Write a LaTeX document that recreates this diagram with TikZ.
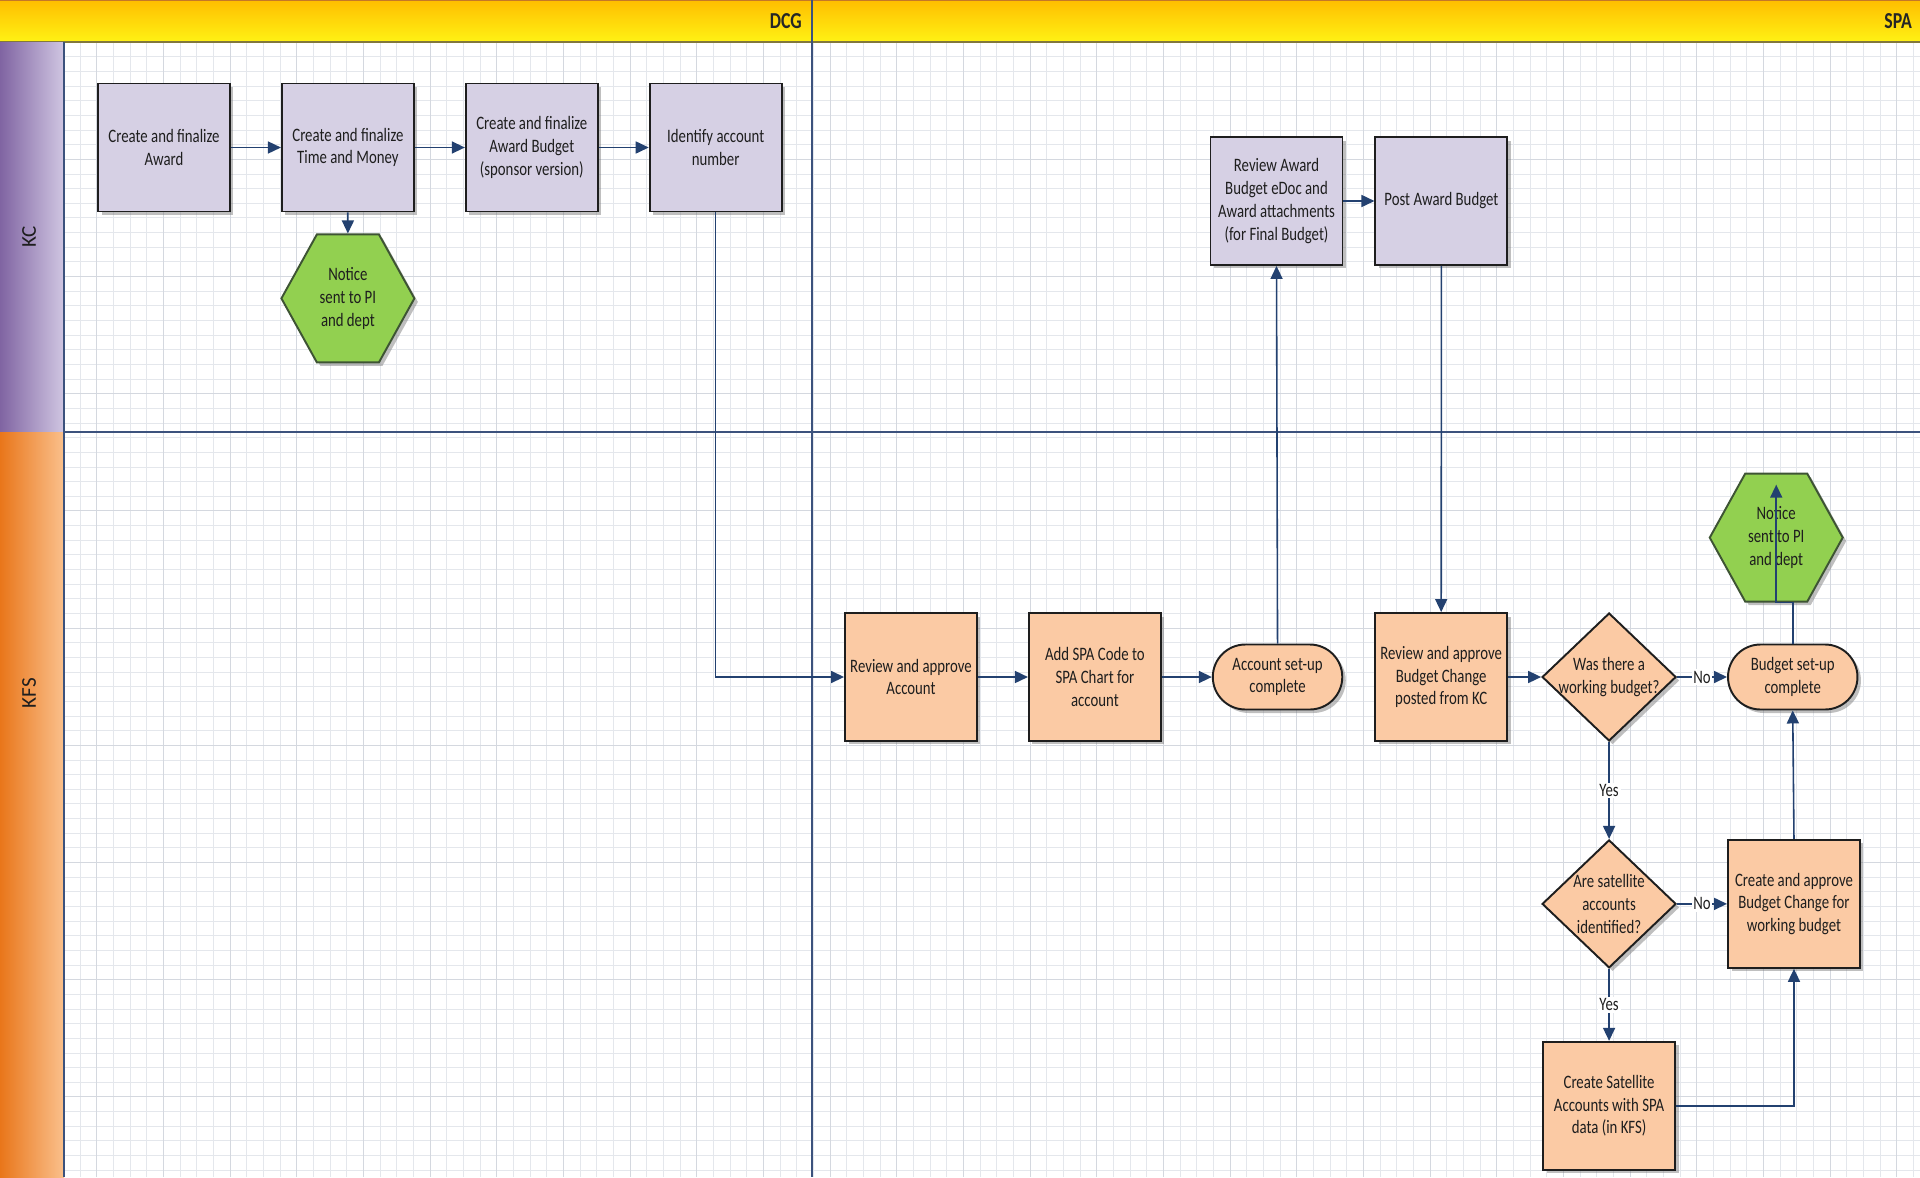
\documentclass[tikz,border=0pt]{standalone}
\usepackage{fontspec}
\setmainfont{Carlito}[FakeStretch=0.78]
\newfontfamily\lanefont{Carlito}
\usepackage{tikz}
\usetikzlibrary{shapes.geometric,shapes.misc,shapes.symbols,arrows.meta,positioning,calc,shadows}
\usepackage{xcolor}
\definecolor{hdrtop}{RGB}{255,190,0}
\definecolor{hdrbot}{RGB}{255,242,20}
\definecolor{hdredge}{RGB}{196,120,40}
\definecolor{hdrline}{RGB}{130,120,60}
\definecolor{kcdark}{RGB}{128,100,162}
\definecolor{kclight}{RGB}{208,198,226}
\definecolor{kfsdark}{RGB}{233,118,26}
\definecolor{kfslight}{RGB}{250,192,140}
\definecolor{lanenavy}{RGB}{60,82,125}
\definecolor{arrnavy}{RGB}{35,65,112}
\definecolor{kcfill}{RGB}{214,208,228}
\definecolor{kfsfill}{RGB}{251,202,164}
\definecolor{hexfill}{RGB}{146,208,80}
\definecolor{hexline}{RGB}{62,84,52}
\definecolor{boxline}{RGB}{30,30,30}
\definecolor{txtc}{RGB}{30,30,30}
\definecolor{gridc}{RGB}{228,231,236}
\definecolor{gridm}{RGB}{212,216,223}

\begin{document}
\begin{tikzpicture}[
    x=0.02cm, y=-0.02cm,
    node distance=1cm,
    >={Triangle[length=0.26cm,width=0.24cm]},
    font=\fontsize{10.8}{13}\selectfont,
    shad/.style={drop shadow={shadow xshift=0.07cm, shadow yshift=-0.07cm, fill=black!55, opacity=0.45}},
    box/.style={
        rectangle, draw=boxline, line width=1.1pt,
        minimum width=2.64cm, minimum height=2.56cm,
        align=center, inner sep=1pt, text=txtc, shad
    },
    kcbox/.style={box, fill=kcfill},
    kfsbox/.style={box, fill=kfsfill},
    done/.style={kfsbox, rounded rectangle, minimum width=2.66cm, minimum height=1.3cm},
    decision/.style={
        diamond, draw=boxline, line width=1.1pt, fill=kfsfill,
        minimum width=2.68cm, minimum height=2.56cm, inner sep=0pt, shad
    },
    notice/.style={
        signal, signal to=east and west, signal pointer angle=122,
        draw=hexline, line width=1.1pt, fill=hexfill, text=txtc,
        minimum width=2.66cm, minimum height=2.56cm,
        align=center, inner sep=0pt, shad
    },
    lanetxt/.style={rotate=90, text=txtc, font=\lanefont\fontsize{12}{14}\selectfont},
    hdrtxt/.style={anchor=east, text=black!85, font=\bfseries\fontsize{13}{15}\selectfont},
    gridminor/.style={draw=gridc, line width=0.4pt},
    gridmajor/.style={draw=gridm, line width=0.45pt},
    arr/.style={->, line width=0.9pt, draw=arrnavy, color=arrnavy},
    yn/.style={fill=white, inner sep=1pt, text=txtc}
]
    \useasboundingbox (0,0) rectangle (1920,1177);

    % Background grid
    \fill[white] (64,42) rectangle (1920,1177);
    \foreach \gx in {3,...,113}
        \draw[gridminor] ({30+16.667*\gx},42) -- ({30+16.667*\gx},1177);
    \foreach \gy in {1,...,77}
        \draw[gridminor] (64,{42+14.65*\gy}) -- (1920,{42+14.65*\gy});
    \foreach \gx in {1,...,28}
        \draw[gridmajor] ({30+66.667*\gx},42) -- ({30+66.667*\gx},1177);
    \foreach \gy in {1,...,9}
        \draw[gridmajor] (64,{42+117.2*\gy}) -- (1920,{42+117.2*\gy});

    % Header and lanes
    \shade[top color=hdrtop, bottom color=hdrbot] (0,0) rectangle (1920,42);
    \draw[hdredge, line width=1pt] (0,0.5) -- (1920,0.5);
    \draw[hdrline, line width=1.4pt] (0,42) -- (1920,42);
    \shade[left color=kcdark, right color=kclight] (0,42) rectangle (64,432);
    \shade[left color=kfsdark, right color=kfslight] (0,432) rectangle (64,1177);
    \draw[lanenavy, line width=1.1pt] (64,42) -- (64,1177);
    \draw[lanenavy, line width=1.3pt] (64,432) -- (1920,432);
    \draw[lanenavy, line width=0.9pt] (812,0) -- (812,1177);

    \node[hdrtxt] (dcglbl) at (808,21) {DCG};
    \node[hdrtxt] (spalbl) at (1918,21) {SPA};
    \node[lanetxt] (kclbl) at (29,237) {KC};
    \node[lanetxt] (kfslbl) at (29,693) {KFS};

    % KC lane
    \node[kcbox] (award) at (164,147.5) {Create and finalize\\Award};
    \node[kcbox, right=of award] (tandm) {Create and finalize\\Time and Money};
    \node[kcbox, right=of tandm] (budgetsp) {Create and finalize\\Award Budget\\(sponsor version)};
    \node[kcbox, right=of budgetsp] (acctnum) {Identify account\\number};
    \node[notice, below=0.42cm of tandm] (notice1) {Notice\\sent to PI\\and dept};

    \node[kcbox] (reviewaward) at (1276.5,201) {Review Award\\Budget eDoc and\\Award attachments\\(for Final Budget)};
    \node[kcbox, right=0.62cm of reviewaward] (postaward) {Post Award Budget};

    % KFS lane
    \node[kfsbox] (reviewacct) at (911,677) {Review and approve\\Account};
    \node[kfsbox, right=of reviewacct] (addspa) {Add SPA Code to\\SPA Chart for\\account};
    \node[done, right=of addspa] (acctdone) {Account set-up\\complete};
    \node[kfsbox, right=0.62cm of acctdone] (reviewchg) {Review and approve\\Budget Change\\posted from KC};
    \node[decision, right=0.66cm of reviewchg,
          label={[align=center, text=txtc]center:Was there a\\working budget?}] (wasbudget) {};
    \node[done, right=of wasbudget] (budgetdone) {Budget set-up\\complete};
    \node[notice, above=0.82cm of budgetdone, xshift=-0.33cm] (notice2) {Notice\\sent to PI\\and dept};
    \node[decision, below=1.94cm of wasbudget,
          label={[align=center, text=txtc]center:Are satellite\\accounts\\identified?}] (satq) {};
    \node[kfsbox, right=of satq] (createchg) {Create and approve\\Budget Change for\\working budget};
    \node[kfsbox, below=1.44cm of satq] (createsat) {Create Satellite\\Accounts with SPA\\data (in KFS)};

    % KC arrows
    \draw[arr] (award) -- (tandm);
    \draw[arr] (tandm) -- (budgetsp);
    \draw[arr] (budgetsp) -- (acctnum);
    \draw[arr] (tandm) -- (notice1);
    \draw[arr] (reviewaward) -- (postaward);

    % Lane crossing arrows
    \draw[arr] (acctnum.south) |- (reviewacct.west);
    \draw[arr] (acctdone.north) -- (reviewaward.south);
    \draw[arr] (postaward.south) -- (reviewchg.north);

    % KFS arrows
    \draw[arr] (reviewacct) -- (addspa);
    \draw[arr] (addspa) -- (acctdone);
    \draw[arr] (reviewchg) -- (wasbudget);
    \draw[arr] (wasbudget.east) -- node[yn] {No} (budgetdone.west);
    \draw[arr] (wasbudget.south) -- node[yn] {Yes} (satq.north);
    \draw[arr] (satq.east) -- node[yn] {No} (createchg.west);
    \draw[arr] (satq.south) -- node[yn] {Yes} (createsat.north);
    \draw[arr] (createsat.east) -| (createchg.south);
    \draw[arr] (createchg.north) -- (budgetdone.south);
    \draw[arr] (budgetdone.north) -- (budgetdone.north |- notice2.south) -- (notice2.south) -- ([yshift=-0.24cm]notice2.north);

\end{tikzpicture}
\end{document}
